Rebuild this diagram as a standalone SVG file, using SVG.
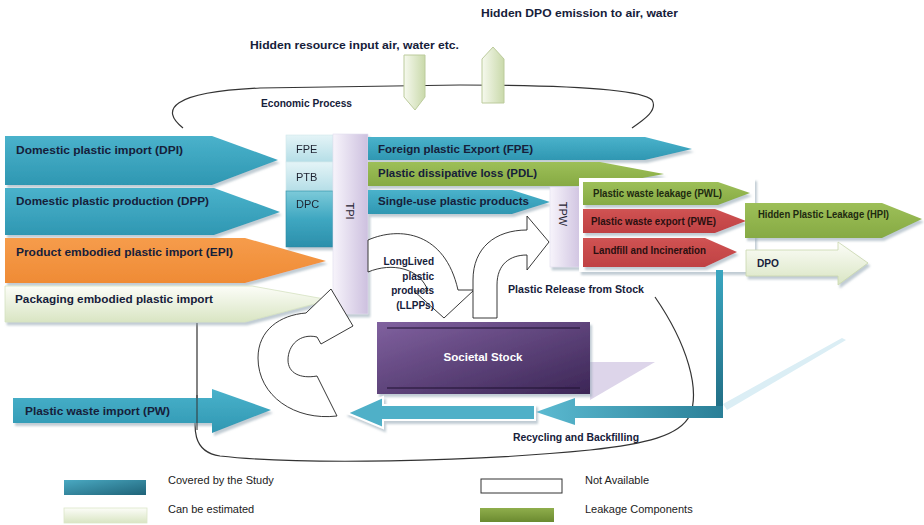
<svg xmlns="http://www.w3.org/2000/svg" width="924" height="525" viewBox="0 0 924 525">
<defs>
<linearGradient id="tealG" x1="0" y1="0" x2="0" y2="1"><stop offset="0" stop-color="#4ab2cb"/><stop offset="1" stop-color="#2f97b2"/></linearGradient>
<linearGradient id="tealH" x1="0" y1="0" x2="1" y2="0"><stop offset="0" stop-color="#5bbad1"/><stop offset="1" stop-color="#2a7f97"/></linearGradient>
<linearGradient id="tealV" x1="0" y1="0" x2="0" y2="1"><stop offset="0" stop-color="#3aa6c0"/><stop offset="1" stop-color="#226f86"/></linearGradient>
<linearGradient id="greenG" x1="0" y1="0" x2="0" y2="1"><stop offset="0" stop-color="#9dbf58"/><stop offset="1" stop-color="#86aa44"/></linearGradient>
<linearGradient id="orangeG" x1="0" y1="0" x2="0" y2="1"><stop offset="0" stop-color="#f69c4b"/><stop offset="1" stop-color="#ef8b35"/></linearGradient>
<linearGradient id="redG" x1="0" y1="0" x2="0" y2="1"><stop offset="0" stop-color="#d05353"/><stop offset="1" stop-color="#bf4143"/></linearGradient>
<linearGradient id="paleG" x1="0" y1="0" x2="0" y2="1"><stop offset="0" stop-color="#fcfdf8"/><stop offset="1" stop-color="#d9e5c3"/></linearGradient>
<linearGradient id="paleH" x1="0" y1="0" x2="1" y2="0"><stop offset="0" stop-color="#f6f9ee"/><stop offset="1" stop-color="#c9d9aa"/></linearGradient>
<linearGradient id="lavG" x1="0" y1="0" x2="1" y2="0"><stop offset="0" stop-color="#f7f4fb"/><stop offset="1" stop-color="#cdc0df"/></linearGradient>
<linearGradient id="purpleG" x1="0" y1="0" x2="1" y2="1"><stop offset="0" stop-color="#80619f"/><stop offset="1" stop-color="#3c2656"/></linearGradient>
<linearGradient id="cellG" x1="0" y1="0" x2="0" y2="1"><stop offset="0" stop-color="#e4f4f7"/><stop offset="1" stop-color="#b5dee7"/></linearGradient>
<linearGradient id="dpcG" x1="0" y1="0" x2="0" y2="1"><stop offset="0" stop-color="#7ccad9"/><stop offset="0.5" stop-color="#3fa7c1"/><stop offset="1" stop-color="#2b8fab"/></linearGradient>
<linearGradient id="legG" x1="0" y1="0" x2="0" y2="1"><stop offset="0" stop-color="#8fae4c"/><stop offset="1" stop-color="#6b8a30"/></linearGradient>
<linearGradient id="legT" x1="0" y1="0" x2="1" y2="1"><stop offset="0" stop-color="#4aa9c2"/><stop offset="1" stop-color="#1f6378"/></linearGradient>
<filter id="sh" x="-5%" y="-10%" width="115%" height="140%"><feDropShadow dx="2" dy="3" stdDeviation="1" flood-color="#8ea3b0" flood-opacity="0.55"/></filter>
</defs>
<style>
.lbl{font-family:"Liberation Sans",Arial,sans-serif;font-weight:bold;font-size:11.5px;fill:#16203a}
.sm{font-family:"Liberation Sans",Arial,sans-serif;font-weight:bold;font-size:10px;fill:#2a1010}
.reg{font-family:"Liberation Sans",Arial,sans-serif;font-size:11px;fill:#1e2230}
.leg{font-family:"Liberation Sans",Arial,sans-serif;font-size:11px;fill:#222}
.line{fill:none;stroke:#333;stroke-width:1.2}
.wa{fill:#fff;stroke:#222;stroke-width:0.9}
</style>
<rect width="924" height="525" fill="#fff"/>

<g id="connectors">
<path class="line" d="M183,128 C160,110 170,92 260,88 L460,85 C560,85 640,88 652,100 C658,110 645,119 632,128"/>
<path class="line" d="M655,297 C688,345 700,390 690,415 C680,436 645,444 590,450 C470,462 300,465 220,456 C192,452 193,428 197,402 L197,323"/>
</g>

<g id="hidden-input">
<polygon points="404,55 425,55 425,97 415,110 404,97" fill="url(#paleH)" stroke="#bccb9c" stroke-width="1"/>
<text class="lbl" x="250" y="49" textLength="209" lengthAdjust="spacingAndGlyphs">Hidden resource input air, water etc.</text>
</g>
<g id="hidden-dpo">
<polygon points="493,47 504,59 504,103 482,103 482,59" fill="url(#paleH)" stroke="#bccb9c" stroke-width="1"/>
<text class="lbl" x="481" y="17" textLength="197" lengthAdjust="spacingAndGlyphs">Hidden DPO emission to air, water</text>
</g>
<text class="lbl" x="261" y="107" textLength="91" lengthAdjust="spacingAndGlyphs" font-size="11">Economic Process</text>

<g id="DPI"><polygon points="5,136 212,136 278,160 212,185 5,185" fill="url(#tealG)" filter="url(#sh)"/>
<text class="lbl" x="16" y="154" textLength="167" lengthAdjust="spacingAndGlyphs">Domestic plastic import (DPI)</text></g>
<g id="DPP"><polygon points="5,188 214,188 280,212 214,235 5,235" fill="url(#tealG)" filter="url(#sh)"/>
<text class="lbl" x="16" y="205" textLength="193" lengthAdjust="spacingAndGlyphs">Domestic plastic production (DPP)</text></g>
<g id="EPI"><polygon points="5,238 245,238 326,261 245,283 5,283" fill="url(#orangeG)" filter="url(#sh)"/>
<text class="lbl" x="16" y="256" textLength="217" lengthAdjust="spacingAndGlyphs">Product embodied plastic import (EPI)</text></g>
<g id="PEPI"><polygon points="5,286 252,286 330,300 245,322 5,322" fill="url(#paleG)" stroke="#d6e2c2" stroke-width="0.8" filter="url(#sh)"/>
<text class="lbl" x="15" y="303" textLength="198" lengthAdjust="spacingAndGlyphs">Packaging embodied plastic import</text></g>

<g id="input-block" filter="url(#sh)">
<rect x="286" y="135" width="47" height="27" fill="url(#cellG)" stroke="#cfe6ec" stroke-width="0.6"/>
<rect x="286" y="162" width="47" height="29" fill="url(#cellG)" stroke="#cfe6ec" stroke-width="0.6"/>
<rect x="286" y="191" width="47" height="56" fill="url(#dpcG)" stroke="#2a8aa4" stroke-width="0.6"/>
<text class="reg" x="296" y="153">FPE</text>
<text class="reg" x="296" y="181">PTB</text>
<text class="reg" x="296" y="208">DPC</text>
</g>

<g id="TPI"><rect x="333" y="134" width="35" height="180" fill="url(#lavG)" stroke="#e2dced" stroke-width="0.6" filter="url(#sh)"/>
<text class="reg" x="350" y="211" transform="rotate(90 350 211)" text-anchor="middle" dominant-baseline="central">TPI</text></g>

<g id="FPE"><polygon points="368,137 645,137 692,149 645,160 368,160" fill="url(#tealG)" filter="url(#sh)"/>
<text class="lbl" x="378" y="153" textLength="155" lengthAdjust="spacingAndGlyphs">Foreign plastic Export (FPE)</text></g>
<g id="PDL"><polygon points="368,162 600,162 664,174 600,186 368,186" fill="url(#greenG)" filter="url(#sh)"/>
<text class="lbl" x="378" y="177" textLength="159" lengthAdjust="spacingAndGlyphs">Plastic dissipative loss (PDL)</text></g>
<g id="SUPP"><polygon points="368,190 512,190 550,202 512,214 368,214" fill="url(#tealG)" filter="url(#sh)"/>
<text class="lbl" x="378" y="205" textLength="151" lengthAdjust="spacingAndGlyphs">Single-use plastic products</text></g>

<g id="TPW"><rect x="550" y="187" width="33" height="80" fill="url(#lavG)" stroke="#e2dced" stroke-width="0.6" filter="url(#sh)"/>
<text class="reg" x="563" y="214" transform="rotate(90 563 214)" text-anchor="middle" dominant-baseline="central">TPW</text></g>

<rect x="579" y="178" width="176" height="94" fill="#fff" filter="url(#sh)"/>
<g id="PWL"><polygon points="583,182 718,182 750,193 718,205 583,205" fill="url(#greenG)" filter="url(#sh)"/>
<text class="sm" x="593" y="197" textLength="129" lengthAdjust="spacingAndGlyphs" style="fill:#1e2a10">Plastic waste leakage (PWL)</text></g>
<g id="PWE"><polygon points="583,209 715,209 746,221 715,233 583,233" fill="url(#redG)" filter="url(#sh)"/>
<text class="sm" x="591" y="225" textLength="125" lengthAdjust="spacingAndGlyphs">Plastic waste export (PWE)</text></g>
<g id="LI"><polygon points="583,238 705,238 737,252 705,267 583,267" fill="url(#redG)" filter="url(#sh)"/>
<text class="sm" x="593" y="254" textLength="113" lengthAdjust="spacingAndGlyphs">Landfill and Incineration</text></g>

<g id="HPI"><polygon points="745,203 882,203 922,219 882,238 745,238" fill="url(#greenG)" filter="url(#sh)"/>
<text class="sm" x="758" y="218" textLength="131" lengthAdjust="spacingAndGlyphs" style="fill:#1e2a10">Hidden Plastic Leakage (HPI)</text></g>
<g id="DPO"><polygon points="746,250 838,250 838,242 868,263 838,285 838,276 746,276" fill="url(#paleG)" stroke="#c9d7ad" stroke-width="0.8" filter="url(#sh)"/>
<text class="sm" x="757" y="267" textLength="22" lengthAdjust="spacingAndGlyphs" style="fill:#16203a">DPO</text></g>

<polygon points="590,362 655,362 590,400" fill="#ddd5ea"/>
<polygon points="723,404 842,338 846,340 727,410" fill="#dbeef5"/>
<g id="societal-stock"><rect x="377" y="322" width="213" height="72" fill="url(#purpleG)" filter="url(#sh)"/>
<line x1="387" y1="328" x2="580" y2="328" stroke="#1f1030" stroke-width="1.2"/>
<line x1="387" y1="388" x2="580" y2="388" stroke="#1f1030" stroke-width="1.2"/>
<text class="lbl" x="483" y="361" text-anchor="middle" style="fill:#fff" textLength="79" lengthAdjust="spacingAndGlyphs">Societal Stock</text></g>

<g id="recycling">
<rect x="716" y="270" width="7" height="137" fill="url(#tealV)"/>
<polygon points="723,406 575,406 575,398 536,412 575,425 575,418 723,418" fill="url(#tealH)"/>
<polygon points="535,405 383,405 383,397 347,413 383,428 383,420 535,420" fill="#4fb0c8" stroke="#fff" stroke-width="2" filter="url(#sh)"/>
<text class="lbl" x="513" y="441" textLength="126" lengthAdjust="spacingAndGlyphs" font-size="11">Recycling and Backfilling</text>
</g>

<g id="PW"><polygon points="13,398 212,398 212,389 271,410 212,433 212,423 13,423" fill="url(#tealG)" filter="url(#sh)"/>
<text class="lbl" x="25" y="415" textLength="145" lengthAdjust="spacingAndGlyphs">Plastic waste import (PW)</text></g>

<g id="loop-arrow"><path class="wa" d="M337,416 C295,421 258,396 258,358 C258,330 280,315 306,313 L331,289 L353,326 L321,344 L317,337 C300,333 288,345 288,360 C288,373 300,379 317,376 Z"/></g>
<line x1="197" y1="395" x2="197" y2="430" stroke="#333" stroke-width="1"/>

<g id="LLPP"><path class="wa" d="M368,240 C400,226 445,232 458,290 L474,290 L444,318 L414,291 L428,291 C420,268 392,262 368,272 Z"/>
<text class="sm" style="fill:#16203a" text-anchor="end" x="434" y="265">LongLived</text>
<text class="sm" style="fill:#16203a" text-anchor="end" x="434" y="280">plastic</text>
<text class="sm" style="fill:#16203a" text-anchor="end" x="434" y="294">products</text>
<text class="sm" style="fill:#16203a" text-anchor="end" x="434" y="309">(LLPPs)</text></g>

<g id="release"><path class="wa" d="M473,318 L473,280 C473,248 495,230 527,230 L527,216 L549,242 L527,270 L527,255 C510,255 497,264 497,285 L497,318 Z"/>
<text class="lbl" x="508" y="293" textLength="136" lengthAdjust="spacingAndGlyphs" font-size="11">Plastic Release from Stock</text></g>

<g id="legend">
<rect x="64" y="480" width="82" height="15" fill="url(#legT)"/>
<text class="leg" x="168" y="484">Covered by the Study</text>
<rect x="64" y="508" width="83" height="15" fill="url(#paleG)" stroke="#dce6c8" stroke-width="0.8"/>
<text class="leg" x="168" y="513">Can be estimated</text>
<rect x="481" y="479" width="81" height="14" fill="#fff" stroke="#333" stroke-width="1"/>
<text class="leg" x="585" y="484">Not Available</text>
<rect x="480" y="508" width="74" height="14" fill="url(#legG)"/>
<text class="leg" x="585" y="513">Leakage Components</text>
</g>
</svg>
